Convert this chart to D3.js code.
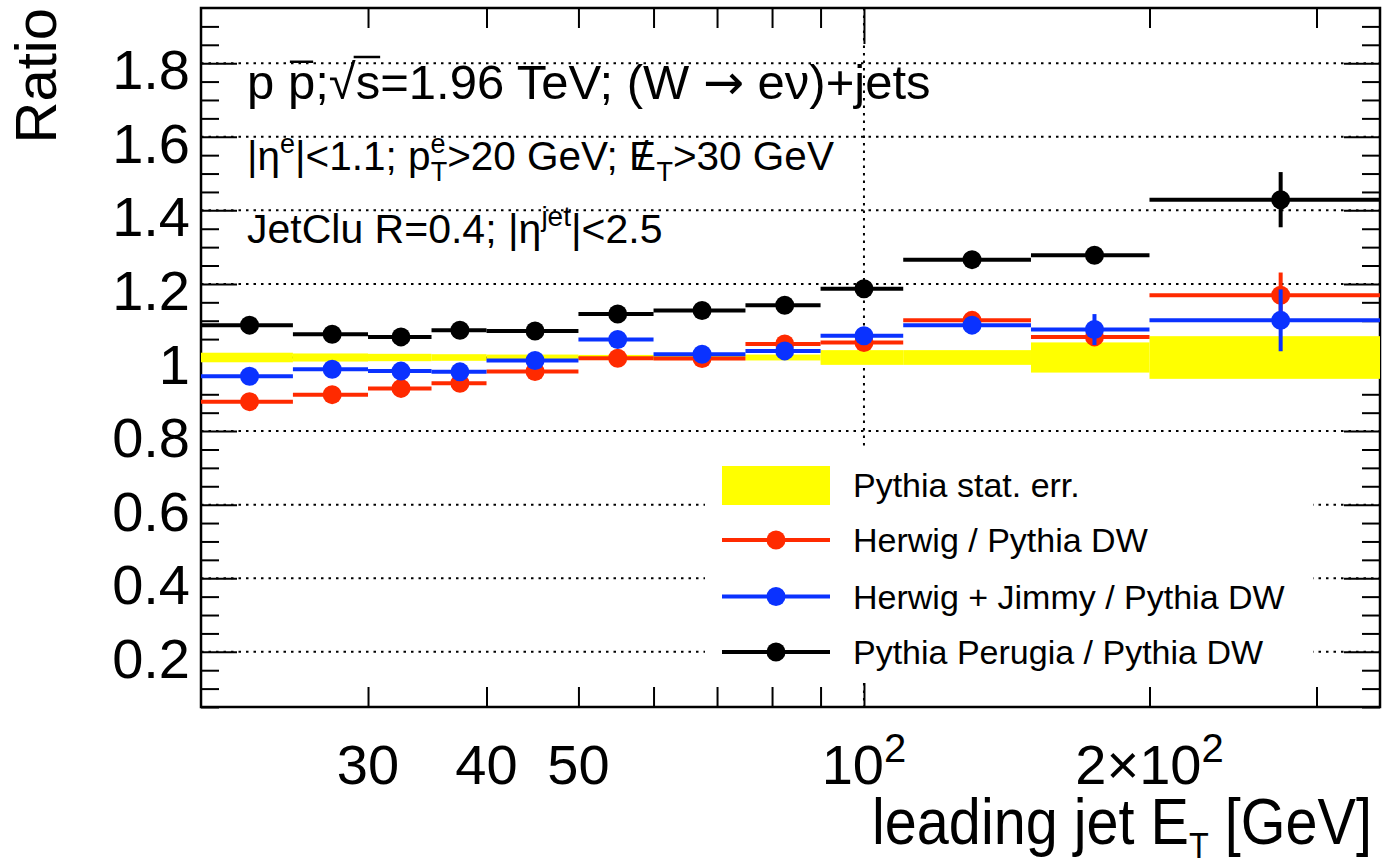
<!DOCTYPE html>
<html>
<head>
<meta charset="utf-8">
<script src="https://cdn.jsdelivr.net/npm/d3@7"></script>
<style>
  body { margin: 0; background: #fff; }
  svg text { font-family: "Liberation Sans", Arial, Helvetica, sans-serif; fill: #000; }
</style>
</head>
<body>
<svg id="chart" width="1388" height="858"></svg>
<script>
// Leading-jet ET bins [GeV]
const binEdges = [20, 25, 30, 35, 40, 50, 60, 75, 90, 110, 150, 200, 350];

// Relative statistical uncertainty of the Pythia DW reference
const pythiaStatErr = [0.013, 0.011, 0.010, 0.009, 0.008, 0.007, 0.007, 0.008, 0.020, 0.020, 0.041, 0.058];

// Herwig / Pythia DW
const herwigRatio = [0.880, 0.899, 0.916, 0.930, 0.962, 0.998, 0.997, 1.037, 1.041, 1.101, 1.056, 1.169];
const herwigErr   = [0.004, 0.004, 0.005, 0.005, 0.005, 0.006, 0.007, 0.008, 0.010, 0.014, 0.020, 0.062];

// Herwig + Jimmy / Pythia DW
const jimmyRatio = [0.949, 0.968, 0.963, 0.961, 0.992, 1.049, 1.009, 1.018, 1.059, 1.088, 1.076, 1.101];
const jimmyErr   = [0.004, 0.004, 0.005, 0.005, 0.005, 0.006, 0.007, 0.008, 0.012, 0.016, 0.042, 0.084];

// Pythia Perugia / Pythia DW
const perugiaRatio = [1.088, 1.063, 1.056, 1.074, 1.072, 1.118, 1.128, 1.142, 1.187, 1.266, 1.278, 1.429];
const perugiaErr   = [0.004, 0.004, 0.005, 0.005, 0.005, 0.006, 0.007, 0.008, 0.010, 0.014, 0.020, 0.075];

// Axis ticks
const yMajorTicks = [0.2, 0.4, 0.6, 0.8, 1.0, 1.2, 1.4, 1.6, 1.8];
const yTickLabels = ["0.2", "0.4", "0.6", "0.8", "1", "1.2", "1.4", "1.6", "1.8"];
const yMinorTicks = [0.05, 0.1, 0.15, 0.25, 0.3, 0.35, 0.45, 0.5, 0.55, 0.65, 0.7, 0.75, 0.85, 0.9, 0.95,
                     1.05, 1.1, 1.15, 1.25, 1.3, 1.35, 1.45, 1.5, 1.55, 1.65, 1.7, 1.75, 1.85, 1.9];
const xMinorTicks = [30, 40, 50, 60, 70, 80, 90, 200, 300];
const xDecadeTicks = [100];
const xLabelTicks = [30, 40, 50];
const xPowerLabels = [{ v: 100, mant: "", exp: "2" }, { v: 200, mant: "2\u00D7", exp: "2" }];

const legendEntries = [
  { label: "Herwig / Pythia DW", color: "#ff2a00" },
  { label: "Herwig + Jimmy / Pythia DW", color: "#0a32ff" },
  { label: "Pythia Perugia / Pythia DW", color: "#000000" }
];

const W = 1388, H = 858;
const plot = { left: 201, right: 1380, top: 8, bottom: 707 };

const svg = d3.select("#chart");
svg.append("rect").attr("width", W).attr("height", H).attr("fill", "#fff");

const x = d3.scaleLog().domain([20, 350]).range([plot.left, plot.right]);
const y = d3.scaleLinear().domain([0.05, 1.95]).range([plot.bottom, plot.top]);

// ---- grid ----
const grid = svg.append("g").attr("stroke", "#000").attr("stroke-width", 2)
  .attr("stroke-dasharray", "2.5,5");
grid.selectAll("line.h").data(yMajorTicks).join("line").attr("class", "h")
  .attr("x1", plot.left).attr("x2", plot.right)
  .attr("y1", d => y(d)).attr("y2", d => y(d));
grid.selectAll("line.v").data(xDecadeTicks).join("line").attr("class", "v")
  .attr("x1", d => x(d)).attr("x2", d => x(d))
  .attr("y1", plot.top).attr("y2", plot.bottom);

// ---- axes (ticks pointing inwards, ROOT style) ----
function ticks(axisGen, transform, values, size) {
  const g = svg.append("g").attr("transform", transform)
    .call(axisGen.tickValues(values).tickSize(-size).tickFormat(""));
  g.select(".domain").remove();
  g.selectAll(".tick line").attr("stroke", "#000").attr("stroke-width", 2);
  return g;
}
ticks(d3.axisLeft(y), `translate(${plot.left},0)`, yMinorTicks, 18);
ticks(d3.axisLeft(y), `translate(${plot.left},0)`, yMajorTicks, 36);
ticks(d3.axisRight(y), `translate(${plot.right},0)`, yMinorTicks, 18);
ticks(d3.axisRight(y), `translate(${plot.right},0)`, yMajorTicks, 36);
ticks(d3.axisBottom(x), `translate(0,${plot.bottom})`, xMinorTicks, 20);
ticks(d3.axisBottom(x), `translate(0,${plot.bottom})`, xDecadeTicks, 36);
ticks(d3.axisTop(x), `translate(0,${plot.top})`, xMinorTicks, 20);
ticks(d3.axisTop(x), `translate(0,${plot.top})`, xDecadeTicks, 36);

// frame
svg.append("rect")
  .attr("x", plot.left).attr("y", plot.top)
  .attr("width", plot.right - plot.left).attr("height", plot.bottom - plot.top)
  .attr("fill", "none").attr("stroke", "#000").attr("stroke-width", 2.5);

// y tick labels
svg.append("g").selectAll("text").data(yMajorTicks).join("text")
  .attr("x", 190).attr("y", d => y(d) + 26)
  .attr("text-anchor", "end").attr("font-size", 56)
  .text((d, i) => yTickLabels[i]);

// x tick labels
svg.append("g").selectAll("text").data(xLabelTicks).join("text")
  .attr("x", d => x(d)).attr("y", 784)
  .attr("text-anchor", "middle").attr("font-size", 56)
  .text(d => String(d));
const pw = svg.append("g").selectAll("text").data(xPowerLabels).join("text")
  .attr("x", d => x(d.v)).attr("y", 784)
  .attr("text-anchor", "middle").attr("font-size", 56);
pw.append("tspan").text(d => d.mant + "10");
pw.append("tspan").attr("font-size", 40).attr("dy", -22).text(d => d.exp);

// axis titles
const xt = svg.append("text").attr("x", 1372).attr("y", 844)
  .attr("text-anchor", "end").attr("font-size", 64)
  .attr("textLength", 500).attr("lengthAdjust", "spacingAndGlyphs");
xt.append("tspan").text("leading jet E");
xt.append("tspan").attr("font-size", 36).attr("dy", 15).text("T");
xt.append("tspan").attr("dy", -15).text(" [GeV]");

svg.append("text")
  .attr("transform", `translate(56,${plot.top}) rotate(-90)`)
  .attr("text-anchor", "end").attr("font-size", 58)
  .text("Ratio");

// ---- data ----
const bins = d3.range(binEdges.length - 1).map(i => ({
  lo: binEdges[i], hi: binEdges[i + 1], mid: (binEdges[i] + binEdges[i + 1]) / 2
}));

const data = svg.append("g");

// Pythia statistical uncertainty band around unity
data.append("g").selectAll("rect").data(bins).join("rect")
  .attr("x", d => x(d.lo)).attr("width", d => x(d.hi) - x(d.lo))
  .attr("y", (d, i) => y(1 + pythiaStatErr[i]))
  .attr("height", (d, i) => y(1 - pythiaStatErr[i]) - y(1 + pythiaStatErr[i]))
  .attr("fill", "#ffff00");

function drawSeries(values, errors, color) {
  const g = data.append("g");
  g.selectAll("line.hbar").data(bins).join("line").attr("class", "hbar")
    .attr("x1", d => x(d.lo)).attr("x2", d => x(d.hi))
    .attr("y1", (d, i) => y(values[i])).attr("y2", (d, i) => y(values[i]))
    .attr("stroke", color).attr("stroke-width", 4);
  g.selectAll("line.vbar").data(bins).join("line").attr("class", "vbar")
    .attr("x1", d => x(d.mid)).attr("x2", d => x(d.mid))
    .attr("y1", (d, i) => y(values[i] + errors[i])).attr("y2", (d, i) => y(values[i] - errors[i]))
    .attr("stroke", color).attr("stroke-width", 4);
  g.selectAll("circle").data(bins).join("circle")
    .attr("cx", d => x(d.mid)).attr("cy", (d, i) => y(values[i]))
    .attr("r", 9.5).attr("fill", color);
}
drawSeries(herwigRatio, herwigErr, legendEntries[0].color);
drawSeries(jimmyRatio, jimmyErr, legendEntries[1].color);
drawSeries(perugiaRatio, perugiaErr, legendEntries[2].color);

// ---- annotation text ----
const ann = svg.append("g");

const l1fs = 49, l1y = 99;
const l1 = ann.append("text").attr("x", 247).attr("y", l1y).attr("font-size", l1fs);
l1.append("tspan").text("p ");
l1.append("tspan").text("p");
l1.append("tspan").text(";\u221A");
l1.append("tspan").text("s");
l1.append("tspan").text("=1.96 TeV; (W ");
l1.append("tspan").style("font-family", "'DejaVu Sans'").text("\u2192");
l1.append("tspan").text(" e\u03BD)+jets");

const l2 = ann.append("text").attr("x", 247).attr("y", 170).attr("font-size", 40.5);
l2.append("tspan").text("|\u03B7");
l2.append("tspan").attr("font-size", 27).attr("dy", -17).text("e");
l2.append("tspan").attr("dy", 17).text("|<1.1; p");
l2.append("tspan").attr("font-size", 27).attr("dy", -17).text("e");
l2.append("tspan").attr("font-size", 27).attr("dx", -15).attr("dy", 28).text("T");
l2.append("tspan").attr("dy", -11).text(">20 GeV; E");
l2.append("tspan").attr("dx", -19).text("/");
l2.append("tspan").attr("font-size", 27).attr("dx", 8).attr("dy", 11).text("T");
l2.append("tspan").attr("dy", -11).text(">30 GeV");

const l3 = ann.append("text").attr("x", 247).attr("y", 243).attr("font-size", 41);
l3.append("tspan").text("JetClu R=0.4; |\u03B7");
l3.append("tspan").attr("font-size", 28).attr("dy", -17).text("jet");
l3.append("tspan").attr("dy", 17).text("|<2.5");

// overbars for the anti-proton and the square root
l1.each(function () {
  const node = this;
  const full = node.textContent;
  const pIdx = 2;                    // second "p"
  const rootIdx = full.indexOf("\u221A");
  const sIdx = rootIdx + 1;
  const ep = node.getExtentOfChar(pIdx);
  const er = node.getExtentOfChar(rootIdx);
  const es = node.getExtentOfChar(sIdx);
  const bars = [
    [ep.x + 2, ep.x + ep.width - 2, l1y - l1fs * 0.76],
    [er.x + er.width - 2, es.x + es.width, er.y + 2]
  ];
  ann.selectAll("line.ob").data(bars).join("line").attr("class", "ob")
    .attr("x1", d => d[0]).attr("x2", d => d[1])
    .attr("y1", d => d[2]).attr("y2", d => d[2])
    .attr("stroke", "#000").attr("stroke-width", 2.5);
});

// ---- legend ----
const leg = svg.append("g");
leg.append("rect").attr("x", 705).attr("y", 449).attr("width", 608).attr("height", 234)
  .attr("fill", "#fff");
leg.append("rect").attr("x", 722).attr("y", 466).attr("width", 108).attr("height", 39)
  .attr("fill", "#ffff00");
leg.append("text").attr("x", 853).attr("y", 497).attr("font-size", 34).text("Pythia stat. err.");
const rowY = [540, 596.5, 652];
const rows = leg.selectAll("g.row").data(legendEntries).join("g").attr("class", "row")
  .attr("transform", (d, i) => `translate(0,${rowY[i]})`);
rows.append("line").attr("x1", 722).attr("x2", 830).attr("stroke", d => d.color).attr("stroke-width", 4);
rows.append("circle").attr("cx", 776).attr("r", 9.5).attr("fill", d => d.color);
rows.append("text").attr("x", 853).attr("y", 12).attr("font-size", 34).text(d => d.label);
</script>
</body>
</html>
